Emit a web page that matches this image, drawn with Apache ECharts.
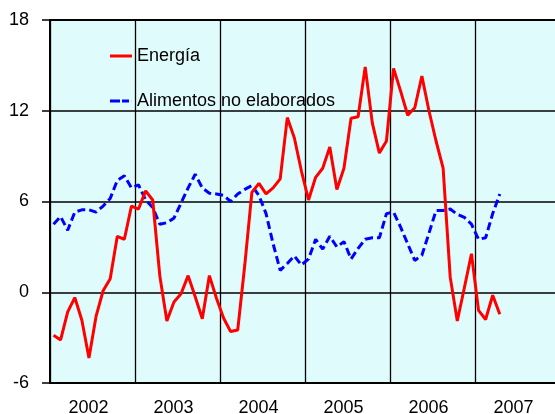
<!DOCTYPE html>
<html>
<head>
<meta charset="utf-8">
<script src="https://cdn.jsdelivr.net/npm/echarts@6/dist/echarts.min.js"></script>
<style>html,body{margin:0;padding:0;background:#fff;}#c{width:555px;height:414px;}</style>
</head>
<body>
<div id="c"></div>
<script>
var years = ['2002', '2003', '2004', '2005', '2006', '2007'];
var yTicks = [-6, 0, 6, 12, 18];
var energia = [
  -2.85, -3.15, -1.3, -0.35, -1.85, -4.35, -1.6, 0.1, 0.9, 3.7, 3.5, 5.7,
  5.5, 6.7, 6.1, 1.1, -1.9, -0.65, -0.1, 1.1, -0.3, -1.75, 1.1, -0.4,
  -1.7, -2.6, -2.5, 1.8, 6.6, 7.2, 6.5, 6.9, 7.5, 11.55, 10.2, 8.0,
  6.1, 7.6, 8.2, 9.6, 6.8, 8.2, 11.5, 11.6, 14.9, 11.2, 9.2, 10.0,
  14.8, 13.3, 11.7, 12.2, 14.3, 12.0, 10.0, 8.2, 1.0, -1.9, 0.3, 2.55,
  -1.2, -1.8, -0.2, -1.45
];
var alimentos = [
  4.5, 5.0, 4.1, 5.3, 5.45, 5.45, 5.3, 5.7, 6.2, 7.4, 7.7, 6.9,
  7.1, 6.1, 5.6, 4.5, 4.6, 4.9, 5.9, 6.9, 7.8, 6.9, 6.55, 6.5,
  6.4, 6.0, 6.5, 6.8, 7.05, 6.4, 5.2, 3.2, 1.45, 1.9, 2.4, 1.8,
  2.2, 3.5, 2.85, 3.7, 3.0, 3.35, 2.2, 2.9, 3.5, 3.6, 3.6, 5.2,
  5.3, 4.3, 3.2, 2.1, 2.45, 3.9, 5.4, 5.4, 5.5, 5.15, 4.95, 4.5,
  3.5, 3.6, 5.2, 6.5
];
var months = [];
years.forEach(function (y) { for (var m = 1; m <= 12; m++) months.push(y + '-' + (m < 10 ? '0' : '') + m); });

var chart = echarts.init(document.getElementById('c'), null, {renderer: 'canvas'});
var font = 'Liberation Sans, Arial, sans-serif';
chart.setOption({
  animation: false,
  backgroundColor: '#ffffff',
  grid: {
    left: 50, top: 20, width: 510, height: 363,
    outerBoundsMode: 'none', containLabel: false,
    show: true, backgroundColor: '#e0fbfb', borderColor: '#000', borderWidth: 2
  },
  legend: {
    orient: 'vertical', left: 105, top: 42,
    itemWidth: 22, itemHeight: 3, itemGap: 27,
    symbolKeepAspect: false,
    textStyle: {fontFamily: font, fontSize: 18, color: '#000', padding: [0, 0, 0, 0]},
    data: [
      {name: 'Energía', icon: 'path://M0,0L22,0L22,3L0,3Z', itemStyle: {color: '#ff0000'}},
      {name: 'Alimentos no elaborados', icon: 'path://M0,0L10,0L10,3L0,3Z M12,0L19,0L19,3L12,3Z M21.9,0L22,0L22,3L21.9,3Z', itemStyle: {color: '#0000ff'}}
    ]
  },
  xAxis: [{
    type: 'category', data: months, boundaryGap: true, show: false
  }, {
    type: 'category', data: years, boundaryGap: true, position: 'bottom',
    axisLine: {show: true, lineStyle: {color: '#000', width: 2}},
    axisTick: {show: false},
    axisLabel: {fontFamily: font, fontSize: 18, color: '#000', margin: 16, padding: [0, 8, 0, 0]},
    splitLine: {show: true, lineStyle: {color: '#000', width: 1.3}}
  }],
  yAxis: {
    type: 'value', min: yTicks[0], max: yTicks[yTicks.length - 1], interval: 6,
    axisLine: {show: true, lineStyle: {color: '#000', width: 2}},
    axisTick: {show: true, inside: false, length: 8, lineStyle: {color: '#000', width: 1.5}},
    axisLabel: {fontFamily: font, fontSize: 18, color: '#000', margin: 21},
    splitLine: {show: true, lineStyle: {color: '#000', width: 1.5}}
  },
  series: [{
    name: 'Energía', type: 'line', xAxisIndex: 0, data: energia,
    symbol: 'none', smooth: false, z: 4,
    lineStyle: {color: '#ff0000', width: 3}, itemStyle: {color: '#ff0000'}
  }, {
    name: 'Alimentos no elaborados', type: 'line', xAxisIndex: 0, data: alimentos,
    symbol: 'none', smooth: false, z: 3,
    lineStyle: {color: '#0000ff', width: 3, type: [8, 4]}, itemStyle: {color: '#0000ff'}
  }]
});
</script>
</body>
</html>
